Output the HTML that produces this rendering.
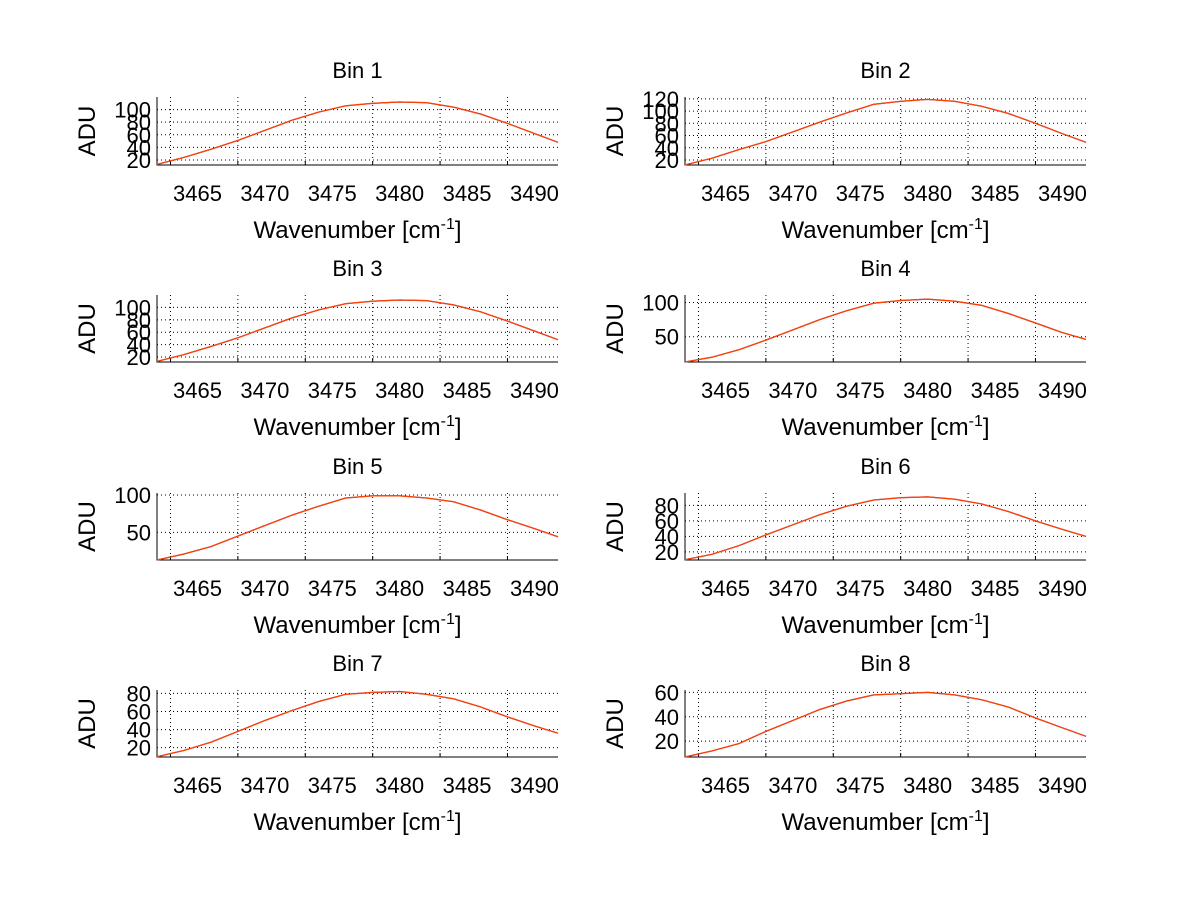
<!DOCTYPE html>
<html><head><meta charset="utf-8"><style>
html,body{margin:0;padding:0;background:#fff}
svg{display:block}
text{font-family:"Liberation Sans",sans-serif;fill:#000}
</style></head><body>
<svg id="chart" width="1200" height="901" viewBox="0 0 1200 901"></svg>
<script>
const xs = [3464,3466,3468,3470,3472,3474,3476,3478,3480,3482,3484,3486,3488,3490,3492,3494];
const xTicks = [3465,3470,3475,3480,3485,3490];
const titles = ["Bin 1","Bin 2","Bin 3","Bin 4","Bin 5","Bin 6","Bin 7","Bin 8"];
const bin1 = [13,24,37,51,67,83,96,106,110,112,111,104,93,78,62,48];
const bin2 = [12,23,37,50,66,82,97,111,116,119,116,108,96,80,63,49];
const bin3 = [13,24,37,51,67,83,96,106,110,112,111,104,93,78,62,48];
const bin4 = [13,20,31,45,60,75,88,99,103,105,102,96,84,70,56,46];
const bin5 = [13,21,31,45,59,73,85,96,99,99,96,91,80,67,55,44];
const bin6 = [10,17,28,42,55,68,79,87,90,91,88,82,72,60,49,40];
const bin7 = [10,17,26,38,50,61,71,79,81,82,79,74,65,54,44,36];
const bin8 = [7,12,18,28,37,46,53,58,59,60,58,54,48,39,31,24];
const series = [bin1,bin2,bin3,bin4,bin5,bin6,bin7,bin8];
const yTicks = [[20,40,60,80,100],[20,40,60,80,100,120],[20,40,60,80,100],[50,100],[50,100],[20,40,60,80],[20,40,60,80],[20,40,60]];
const yLims = [[12,120],[11.8,123],[12,120],[13,111],[13,102.7],[9.6,96],[9.7,83.7],[7,62]];

const NS="http://www.w3.org/2000/svg";
const svg=document.getElementById('chart');
function mk(tag,attrs,parent){const e=document.createElementNS(NS,tag);for(const k in attrs)e.setAttribute(k,attrs[k]);(parent||svg).appendChild(e);return e;}
const X0=3464, X1=3493.75;
const tops=[97,295,493,690], bottoms=[165,362,560,757];
for(let i=0;i<8;i++){
  const col=i%2,row=Math.floor(i/2);
  const L=157+col*528,R=558+col*528,T=tops[row],B=bottoms[row];
  const g=mk('g',{});
  
  
  const sx=v=>L+(v-X0)/(X1-X0)*(R-L);
  const sy=v=>B-(v-yLims[i][0])/(yLims[i][1]-yLims[i][0])*(B-T);
  xTicks.forEach(t=>{
    const x=sx(t);
    const gl=mk('line',{x1:x,x2:x,y1:T,y2:B,stroke:'#000','stroke-width':1,'stroke-dasharray':'1,3'},g);
    
    
    mk('line',{x1:x,x2:x,y1:B,y2:B-4,stroke:'#000'},g);
    const tl=mk('text',{x:x+27,y:B+36,'font-size':22,'text-anchor':'middle'},g);
    tl.textContent=t;
    
    
  });
  yTicks[i].forEach(t=>{
    const y=sy(t);
    const gl=mk('line',{x1:L,x2:R,y1:y,y2:y,stroke:'#000','stroke-width':1,'stroke-dasharray':'1,3'},g);
    
    
    const tl=mk('text',{x:L-6,y:y+8,'font-size':22,'text-anchor':'end'},g);
    tl.textContent=t;
    
    
  });
  const ax=mk('path',{d:`M${L},${T}V${B}H${R}`,fill:'none',stroke:'#000','stroke-width':1},g);
  
  
  const d=series[i].map((v,k)=>(k?'L':'M')+sx(Math.min(xs[k],X1)).toFixed(1)+','+sy(v).toFixed(1)).join('');
  const lb=mk('path',{d:d,fill:'none',stroke:'#4040c0','stroke-width':1.2},g);
  
  
  const lr=mk('path',{d:d,fill:'none',stroke:'#ff4000','stroke-width':1.3},g);
  
  
  const cx=(L+R)/2;
  const ti=mk('text',{x:cx,y:T-19,'font-size':22,'text-anchor':'middle'},g);
  ti.textContent=titles[i];
  
  
  const xl=mk('text',{x:cx,y:B+73,'font-size':24,'text-anchor':'middle'},g);
  xl.innerHTML='Wavenumber [cm<tspan dy="-9" font-size="16">-1</tspan><tspan dy="9">]</tspan>';
  
  
  const yl=mk('text',{x:0,y:0,'font-size':24,'text-anchor':'middle',transform:`translate(${L-62},${(T+B)/2}) rotate(-90)`},g);
  yl.textContent='ADU';
  
  
}
</script>
</body></html>
